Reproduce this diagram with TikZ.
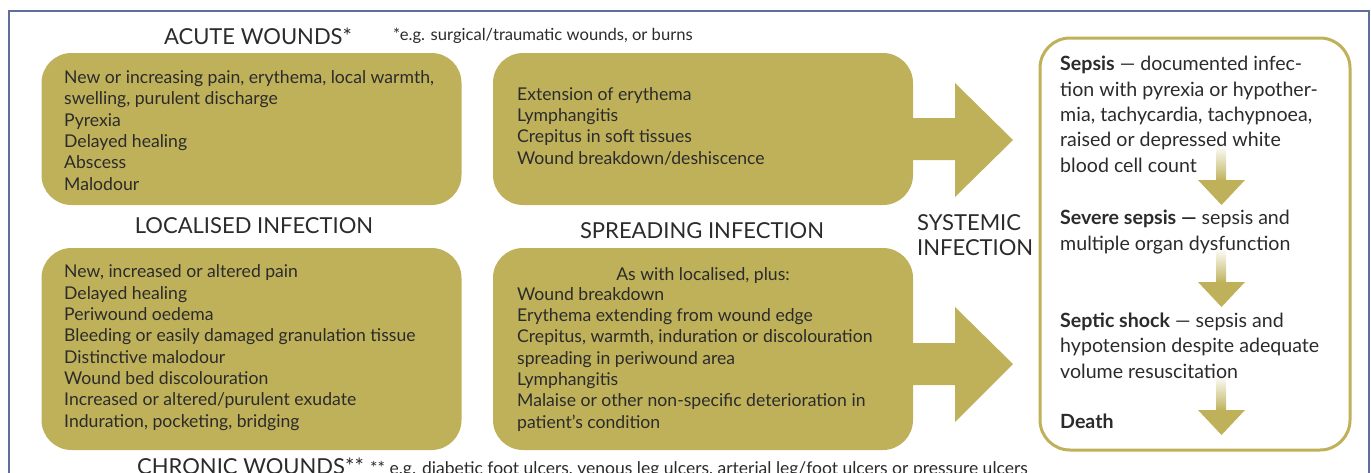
\documentclass[tikz,border=0pt]{standalone}
\usepackage{fontspec}
\setmainfont{Lato}
\definecolor{boxol}{HTML}{BFB15A}
\definecolor{txtc}{HTML}{2B2B2B}
\definecolor{framec}{HTML}{5F6E9C}
\begin{document}
\begin{tikzpicture}[x=1pt,y=-1pt,
  panel/.style={fill=boxol, draw=none, rounded corners=30pt, inner sep=0pt},
  body/.style={text=txtc, font=\fontsize{17.6}{21.3}\selectfont, align=left, inner sep=0pt, anchor=base west},
  head/.style={text=txtc, font=\fontsize{22}{24.5}\selectfont, inner sep=0pt},
  note/.style={text=txtc, font=\fontsize{16.6}{18}\selectfont, inner sep=0pt, anchor=base west},
  sep/.style={text=txtc, font=\fontsize{19.6}{25.3}\selectfont, align=left, inner sep=0pt, anchor=base west},
  blockarrow/.style={fill=boxol, draw=none},
  downshaft/.style={top color=white, bottom color=boxol, draw=none},
]
\useasboundingbox (0,0) rectangle (1371,472);
\clip (0,0) rectangle (1371,472);
% frame
\draw[framec, line width=1.3pt] (9,480) -- (9,11) -- (1369,11) -- (1369,480);

% panels
\node[panel, minimum width=420pt, minimum height=152pt] (acute) at (251.5,129) {};
\node[panel, minimum width=420pt, minimum height=152pt] (spreadtop) at (703,129) {};
\node[panel, minimum width=420pt, minimum height=202pt] (local) at (251.5,349) {};
\node[panel, minimum width=420pt, minimum height=202pt] (spread) at (703,349) {};

% block arrows
\fill[blockarrow] (900,118) -- (955,118) -- (955,83) -- (1013,140) -- (955,197) -- (955,160) -- (900,160) -- cycle;
\fill[blockarrow] (900,343) -- (955,343) -- (955,307) -- (1013,364) -- (955,422) -- (955,385) -- (900,385) -- cycle;

% systemic box
\node[draw=boxol, line width=3pt, rounded corners=30pt, minimum width=310pt, minimum height=412pt, inner sep=0pt] (sys) at (1195,244) {};

% down arrows
\shade[downshaft] (1216,145) rectangle (1226,181);
\fill[blockarrow] (1198,180) -- (1245,180) -- (1221.5,205) -- cycle;
\shade[downshaft] (1216,248) rectangle (1226,283);
\fill[blockarrow] (1198,282) -- (1245,282) -- (1221.5,307) -- cycle;
\shade[downshaft] (1216,375) rectangle (1226,411);
\fill[blockarrow] (1198,410) -- (1245,410) -- (1221.5,435) -- cycle;

% headings
\node[head] (hacute) at (258,36) {ACUTE WOUNDS*};
\node[note] (nacute) at (393,40) {*e.g. surgical/traumatic wounds, or burns};
\node[head] (hlocal) at (254,226) {LOCALISED INFECTION};
\node[head] (hspread) at (702,231) {SPREADING INFECTION};
\node[head, align=left, anchor=base west] (hsys) at (917,255) {SYSTEMIC\\INFECTION};
\node[head, anchor=base west] (hchronic) at (137,474) {CHRONIC WOUNDS**};
\node[note, font=\fontsize{17.5}{20}\selectfont] (nchronic) at (370,474) {** e.g. diabetic foot ulcers, venous leg ulcers, arterial leg/foot ulcers or pressure ulcers};

% panel texts (anchored at baseline of last line)
\node[body] (tacute) at (64,190) {New or increasing pain, erythema, local warmth,\\swelling, purulent discharge\\Pyrexia\\Delayed healing\\Abscess\\Malodour};
\node[body] (tspreadtop) at (517,164) {Extension of erythema\\Lymphangitis\\Crepitus in soft tissues\\Wound breakdown/deshiscence};
\node[body] (tlocal) at (64,427) {New, increased or altered pain\\Delayed healing\\Periwound oedema\\Bleeding or easily damaged granulation tissue\\Distinctive malodour\\Wound bed discolouration\\Increased or altered/purulent exudate\\Induration, pocketing, bridging};
\node[body, anchor=base] (tspreadhd) at (703,280) {As with localised, plus:};
\node[body] (tspread) at (517,428) {Wound breakdown\\Erythema extending from wound edge\\Crepitus, warmth, induration or discolouration\\spreading in periwound area\\Lymphangitis\\Malaise or other non-specific deterioration in\\patient’s condition};

% systemic texts
\node[sep] (tsepsis) at (1060,172) {\textbf{Sepsis} — documented infec-\\tion with pyrexia or hypother-\\mia, tachycardia, tachypnoea,\\raised or depressed white\\blood cell count};
\node[sep] (tsevere) at (1060,250) {\textbf{Severe sepsis —} sepsis and\\multiple organ dysfunction};
\node[sep] (tshock) at (1060,378) {\textbf{Septic shock} — sepsis and\\hypotension despite adequate\\volume resuscitation};
\node[sep] (tdeath) at (1060,428) {\textbf{Death}};
\end{tikzpicture}
\end{document}
